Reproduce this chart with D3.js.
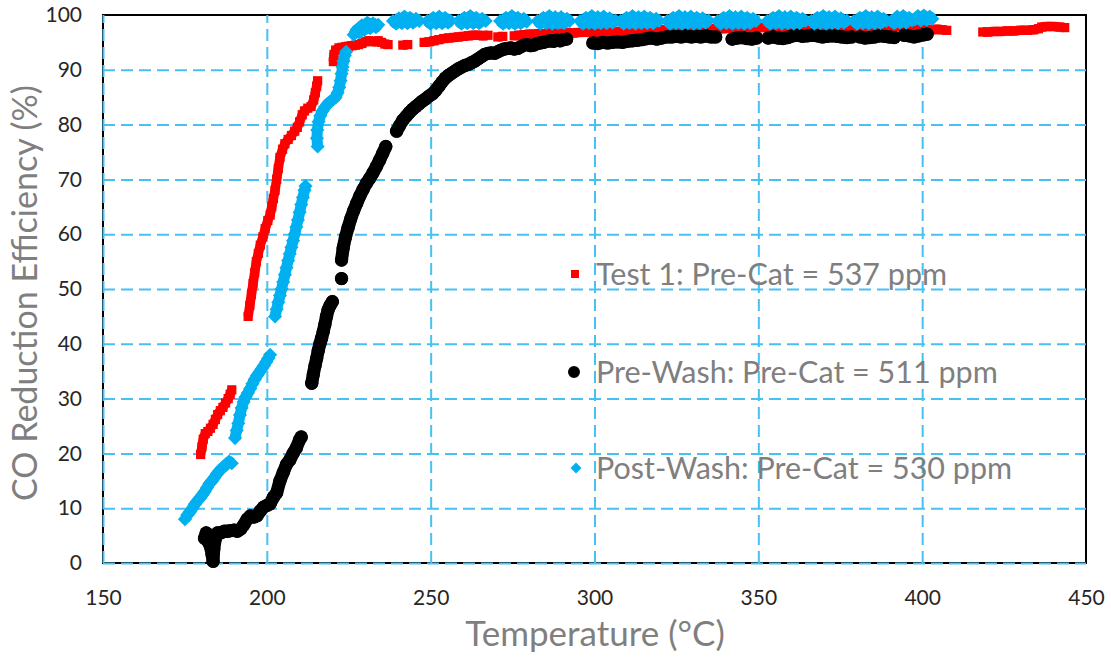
<!DOCTYPE html>
<html>
<head>
<meta charset="utf-8">
<script src="https://cdn.jsdelivr.net/npm/d3@7"></script>
<style>
  html, body { margin: 0; padding: 0; background: #fff; }
  svg { display: block; font-family: Lato, "Open Sans", sans-serif; }
</style>
</head>
<body>
<svg id="chart" width="1111" height="660"></svg>
<script>
// Axis ticks
const xTicks = [150, 200, 250, 300, 350, 400, 450];
const yTicks = [0, 10, 20, 30, 40, 50, 60, 70, 80, 90, 100];

// Series labels
const seriesNames = [
  "Test 1: Pre-Cat = 537 ppm",
  "Pre-Wash: Pre-Cat = 511 ppm",
  "Post-Wash: Pre-Cat = 530 ppm"
];

// Test 1 readings: [temperature °C, CO reduction %]; null marks a break in logging
const test1 = [
  [179.8,19.8],[180.2,21.2],[180.6,22.6],[181.2,23.6],[182,24],[182.8,24.6],[183.6,25.3],[184.3,26.2],
  [185,27.1],[185.8,27.8],[186.6,28.4],[187.4,29.2],[188.2,30],[188.8,30.8],[189.3,31.6],
  null,
  [194.3,45],[194.8,47],[195.3,49],[195.8,51],[196.3,53],[196.8,55],[197.4,56.5],[198,58],[198.8,59.5],
  [199.5,61],[200.3,62.5],[201,63.5],[201.5,65],[202,66.5],[202.5,68],[203,70],[203.5,72],[204,74],
  [204.8,75.5],[205.5,76.5],[206.5,77.3],[207.5,78],[208.5,78.8],[209.3,79.5],[210,80.5],[210.8,81.8],
  [211.5,82.5],[212.5,83],[213.5,83.3],[214.3,84.5],[214.8,85.8],[215.2,87],[215.5,88],
  null,
  [220.3,91.5],[220.5,92.8],[221,93.6],[222,94],[223,94.1],[224,94.2],[225,94.3],[226,94.4],[227,94.5],
  [228,94.6],[229,94.8],[230,95.1],[231,95.3],[232,95.2],[233,95.1],[234,95.3],[235,95],[236,94.7],[237,94.6],
  null,
  [241.5,94.5],[243,94.6],
  null,
  [248,95],[249.5,95.1],[251,95.3],[252.5,95.5],[254,95.7],[255.5,95.8],[257,95.9],[258.5,96],[260,96.1],
  [261.5,96.2],[263,96.3],[264.5,96.3],[266,96.2],[267.5,96.3],
  null,
  [270.5,96],[272,96.1],
  null,
  [275.5,96.2],[277,96.3],[278.5,96.4],[280,96.5],[281.5,96.5],[283,96.6],[284.5,96.6],[286,96.7],[287.5,96.7],
  [289,96.6],[290.5,96.7],[292,96.8],[293.5,96.7],[295,96.8],[297,96.9],[299,96.8],[301,96.9],[303,97],
  [305,96.9],[307,97],[309,97.1],[311,97],[313,97.1],[315,97.2],[317,97.1],[319,97.2],[321,97.3],[323,97.2],
  [325,97.3],[327,97.4],[329,97.3],[331,97.4],[333,97.5],[335,97.4],[337,97.5],[339,97.5],[341,97.6],
  [343,97.5],[345,97.6],[347,97.7],[349,97.6],[351,97.7],[353,97.7],[355,97.8],[357,97.7],[359,97.8],
  [361,97.8],[363,97.7],[365,97.8],[367,97.9],[369,97.8],[371,97.8],[373,97.9],[375,97.8],[377,97.9],
  [379,97.8],[381,97.9],[383,97.8],[385,97.9],[387,97.8],[389,97.9],[391,97.8],[393,97.9],[395,97.8],
  [397,97.7],[399,97.6],[401.5,97.4],[403,97.3],[404.5,97.4],[406,97.3],[407.5,97.2],
  null,
  [418.5,96.9],[420,96.9],[422,97],[424,97],[426,97.1],[428,97.1],[430,97.2],[432,97.2],[434,97.3],
  [435.5,97.5],[436.5,97.8],[438,97.9],[440,97.9],[442,97.8],[443.5,97.7]
];

// Pre-Wash readings
const preWash = [
  [181,4.5],[181.5,5.5],[182,4],[182.8,3],[183.3,1.5],[183.6,0.3],[183.8,2.5],[184.3,4.5],[185,5.5],
  [186,5.5],[187,5.8],[188,5.8],[189,5.9],[190,6],[191,5.8],[192,6.2],[193,7],[194,8],[195,8.6],[196,8.4],
  [197,8.6],[198,9.5],[199,10.2],[200,10.5],[201,10.8],[202,12],[203,12.8],[204,15],[205,16.5],[206,18],
  [207,18.8],[208,20],[209,21],[210,22.5],[210.5,23],
  null,
  [213.7,32.8],[214.2,34.5],[214.7,36],[215.2,37.3],[215.7,38.8],[216.2,40],[216.7,41],[217.2,42.2],
  [217.7,43.5],[218.2,45],[218.7,46.2],[219.3,47],[220,47.7],
  null,
  [222.8,51.9],
  null,
  [222.8,55.3],[223.3,57.5],[224,59.5],[224.8,61.2],[225.6,62.8],[226.5,64.3],[227.4,65.6],[228.4,67],
  [229.4,68.2],[230.4,69.3],[231.4,70.2],[232.4,71.2],[233.4,72.3],[234.4,73.5],[235.4,74.8],[236.3,76],
  null,
  [239.6,78.8],[240.5,79.8],[241.5,80.8],[242.5,81.5],[243.5,82.2],[244.5,82.8],[245.5,83.3],[246.5,83.8],
  [247.5,84.3],[248.5,84.7],[249.5,85.2],[250.5,85.6],[251.5,86.2],[252.5,87],[253.5,87.8],[254.5,88.5],
  [255.5,89],[256.5,89.4],[257.5,89.8],[258.5,90.2],[259.5,90.5],[260.5,90.8],[261.5,91],[262.5,91.3],
  [263.5,91.6],[264.5,92],[265.5,92.4],[266.5,92.8],[267.5,93],[268.5,93.1],[269.5,93],[270.5,93.3],
  [271.5,93.6],[272.5,93.8],[273.5,93.9],[274.5,94],[275.5,93.8],[276.5,93.9],[277.5,94.2],[278.5,94.5],
  [279.5,94.6],[280.5,94.4],[281.5,94.5],[282.5,94.8],[283.5,94.9],[284.5,95],[285.5,95.2],[286.5,95.3],
  [287.5,95.2],[288.5,95.4],[289.5,95.3],[290.5,95.5],[291.5,95.6],
  null,
  [299.5,94.9],[301,94.8],[302.5,95],[304,94.9],[305.5,95],[307,95.1],[308.5,95],[310,95.2],[311.5,95.3],
  [313,95.4],[314.5,95.5],[316,95.7],[317.5,95.8],[319,95.6],[320.5,95.8],[322,96],[323.5,96],[325,96.1],
  [326.5,96],[328,96.2],[329.5,96],[331,96.1],[332.5,96],[334,96.2],[335.5,96],[337,96],
  null,
  [342,95.6],[343.5,95.8],[345,95.9],[346.5,95.7],[348,95.6],[349.5,95.8],
  null,
  [353,95.8],[354.5,96],[356,95.8],[357.5,95.7],[359,95.9],[360.5,96.2],[362,96.3],[363.5,96.1],[365,96.2],
  [366.5,96.3],[368,96.2],[369.5,96],[371,96.1],[372.5,96.2],[374,96.1],[375.5,96],[377,95.9],[378.5,96],
  null,
  [381,96],[382.5,95.8],[384,95.9],[385.5,96],[387,96.2],[388.5,96.1],[390,96],[391.5,95.9],
  null,
  [394.5,96.3],[396,96.2],[397.5,96],[399,96.2],[400.5,96.4],[401.5,96.5]
];

// Post-Wash readings
const postWash = [
  [175,8],[175.8,8.8],[176.5,9.3],[177.3,10],[178,10.7],[178.8,11.3],[179.5,11.8],[180.3,12.4],[181,13],
  [181.8,13.8],[182.5,14.5],[183.3,15],[184,15.6],[184.8,16.3],[185.5,16.8],[186.3,17.3],[187,17.6],
  [187.8,18.1],[188.5,18.5],[189.3,18.2],
  null,
  [190.3,22.8],[190.8,24.2],[191.3,25.5],[191.8,27],[192.3,28.3],[192.9,29.4],[193.5,30.3],[194.2,31],
  [194.9,31.8],[195.6,32.7],[196.3,33.5],[197,34.2],[197.7,34.8],[198.4,35.4],[199.1,36],[199.8,36.7],
  [200.4,37.3],[201,38],
  null,
  [202.5,45],[203,46.3],[203.5,47.6],[204,48.8],[204.5,50],[205,51.3],[205.5,52.6],[206,53.9],[206.5,55.2],
  [207,56.4],[207.5,57.6],[208,58.8],[208.5,60],[209,61.3],[209.5,62.6],[210,64],[210.5,65.4],[211,66.7],
  [211.5,68],[211.8,68.8],
  null,
  [215.5,76],[215.3,77.5],[215.4,79],[215.8,80.5],[216.3,81.6],[217,82.5],[217.8,83.2],[218.6,83.8],
  [219.4,84.2],[220.2,84.6],[221,85],[221.6,85.8],[222.1,86.8],[222.5,88],[222.8,89.3],[223.1,90.5],
  [223.4,91.6],[223.8,92.6],[224.2,93.3],
  null,
  [226.5,96.4],[227.4,97.3],[228.2,96.8],[229,98.1],[229.8,97.3],[230.7,98.6],[231.5,97.6],[232.4,98.5],
  [233.3,97.8],[234,98.2],
  null,
  [238.5,98.9],[239.5,98.4],[240.3,99.4],[241.2,98.5],[242,99.7],[242.9,98.5],[243.7,99.5],[244.6,98.6],
  [245.5,99.3],[246.5,98.9],
  null,
  [249,98.9],[249.9,98.4],[250.8,99.5],[251.7,98.5],[252.6,99.7],[253.5,98.5],[254.4,99.5],[255.3,98.6],[256,99],
  null,
  [258.5,98.9],[259.4,98.4],[260.3,99.5],[261.2,98.5],[262.1,99.8],[263,98.5],[263.9,99.5],[264.8,98.5],
  [265.7,99.3],[266.8,98.9],
  null,
  [271.2,98.9],[272.1,98.4],[273,99.5],[273.9,98.5],[274.8,99.8],[275.7,98.4],[276.6,99.5],[277.5,98.5],
  [278.4,99.3],[279.3,98.8],
  null,
  [282.6,98.9],[283.5,98.4],[284.4,99.5],[285.3,98.5],[286.2,99.8],[287.1,98.4],[288,99.6],[288.9,98.5],
  [289.8,99.6],[290.7,98.5],[291.6,99.3],[292.4,98.9],
  null,
  [295.6,98.9],[296.5,98.4],[297.4,99.5],[298.3,98.5],[299.2,99.8],[300.1,98.4],[301,99.6],[301.9,98.5],
  [302.8,99.7],[303.7,98.5],[304.6,99.4],[305.5,98.6],[306.4,99],
  null,
  [308,98.9],[308.9,98.4],[309.8,99.5],[310.7,98.5],[311.6,99.8],[312.5,98.4],[313.4,99.6],[314.3,98.5],
  [315.2,99.7],[316.1,98.5],[317,99.5],[317.9,98.5],[318.8,99.3],[319.7,98.9],
  null,
  [322.2,98.9],[323.1,98.4],[324,99.5],[324.9,98.5],[325.8,99.8],[326.7,98.4],[327.6,99.6],[328.5,98.5],
  [329.4,99.7],[330.3,98.4],[331.2,99.5],[332.1,98.5],[333,99.4],[333.9,98.6],[334.8,99],
  null,
  [337.6,98.9],[338.5,98.4],[339.4,99.5],[340.3,98.5],[341.2,99.8],[342.1,98.4],[343,99.6],[343.9,98.5],
  [344.8,99.7],[345.7,98.4],[346.6,99.5],[347.5,98.5],[348.4,99.3],[349.3,98.9],
  null,
  [352.7,98.9],[353.6,98.4],[354.5,99.5],[355.4,98.5],[356.3,99.8],[357.2,98.4],[358.1,99.6],[359,98.5],
  [359.9,99.7],[360.8,98.4],[361.7,99.5],[362.6,98.5],[363.5,99.3],[364.4,98.9],
  null,
  [366.2,98.9],[367.1,98.4],[368,99.5],[368.9,98.5],[369.8,99.8],[370.7,98.4],[371.6,99.6],[372.5,98.5],
  [373.4,99.7],[374.3,98.5],[375.2,99.4],[376.1,98.6],[377,99],
  null,
  [379.2,98.9],[380.1,98.4],[381,99.5],[381.9,98.5],[382.8,99.8],[383.7,98.4],[384.6,99.6],[385.5,98.5],
  [386.4,99.7],[387.3,98.5],[388.2,99.3],[389.1,98.9],
  null,
  [390.6,98.9],[391.5,98.5],[392.4,99.7],[393.3,98.6],[394.2,99.8],[395.1,98.6],[396,99.5],[396.9,99],
  null,
  [397.8,99.2],[398.7,99.8],[399.6,99],[400.5,99.9],[401.4,99.1],[402.3,99.7],[403.1,99.3]
];

const svg = d3.select("#chart");
const plot = { left: 103, right: 1086, top: 15, bottom: 563 };

const x = d3.scaleLinear().domain([150, 450]).range([plot.left, plot.right]);
const y = d3.scaleLinear().domain([0, 100]).range([plot.bottom, plot.top]);

const gridColor = "#45c1f2";
const tickColor = "#262626";
const titleColor = "#7f7f7f";

// Plot frame
svg.append("rect")
  .attr("x", plot.left).attr("y", plot.top)
  .attr("width", plot.right - plot.left).attr("height", plot.bottom - plot.top)
  .attr("fill", "none").attr("stroke", "#000").attr("stroke-width", 2);

// Dashed gridlines drawn with axis generators
const gridY = svg.append("g")
  .attr("transform", `translate(${plot.left},0)`)
  .call(d3.axisLeft(y).tickValues(yTicks.filter(v => v < 100))
    .tickSize(-(plot.right - plot.left)).tickFormat(""));
const gridX = svg.append("g")
  .attr("transform", `translate(0,${plot.bottom})`)
  .call(d3.axisBottom(x).tickValues(xTicks.filter(v => v < 450))
    .tickSize(-(plot.bottom - plot.top)).tickFormat(""));
[gridX, gridY].forEach(g => {
  g.select(".domain").remove();
  g.selectAll("line")
    .attr("stroke", gridColor).attr("stroke-width", 2)
    .attr("stroke-dasharray", "12,6");
});

// Tick labels
const axX = svg.append("g")
  .attr("transform", `translate(0,${plot.bottom})`)
  .call(d3.axisBottom(x).tickValues(xTicks).tickSize(0).tickPadding(27).tickFormat(d3.format("d")));
const axY = svg.append("g")
  .attr("transform", `translate(${plot.left},0)`)
  .call(d3.axisLeft(y).tickValues(yTicks).tickSize(0).tickPadding(21).tickFormat(d3.format("d")));
[axX, axY].forEach(g => {
  g.select(".domain").remove();
  g.selectAll("text")
    .attr("fill", tickColor)
    .style("font-family", "Lato, 'Open Sans', sans-serif")
    .style("font-size", "21px");
});

// Series: a thick trace through each logged run, with a marker at every reading
const line = d3.line().defined(d => d !== null).x(d => x(d[0])).y(d => y(d[1]));

const series = [
  { data: test1,    color: "#ff0000", width: 9.5, symbol: d3.symbolSquare, size: 85,  rotate: 0 },
  { data: preWash,  color: "#000000", width: 13,  symbol: d3.symbolCircle, size: 140, rotate: 0 },
  { data: postWash, color: "#00b0f0", width: 11,  symbol: d3.symbolSquare, size: 100, rotate: 45 }
];

series.forEach(s => {
  const g = svg.append("g");
  g.append("path")
    .datum(s.data)
    .attr("d", line)
    .attr("fill", "none")
    .attr("stroke", s.color)
    .attr("stroke-width", s.width)
    .attr("stroke-linejoin", "round")
    .attr("stroke-linecap", s.symbol === d3.symbolCircle ? "round" : "butt");
  g.selectAll("path.pt")
    .data(s.data.filter(d => d !== null))
    .join("path")
    .attr("class", "pt")
    .attr("d", d3.symbol().type(s.symbol).size(s.size))
    .attr("transform", d => `translate(${x(d[0])},${y(d[1])}) rotate(${s.rotate})`)
    .attr("fill", s.color);
});

// Legend
const legendRows = [
  { name: seriesNames[0], color: "#ff0000", symbol: d3.symbolSquare, size: 64,  rotate: 0,  mx: 575, baseline: 285 },
  { name: seriesNames[1], color: "#000000", symbol: d3.symbolCircle, size: 113, rotate: 0,  mx: 574, baseline: 383 },
  { name: seriesNames[2], color: "#00b0f0", symbol: d3.symbolSquare, size: 60,  rotate: 45, mx: 576, baseline: 479 }
];
const legend = svg.append("g");
legendRows.forEach(r => {
  legend.append("path")
    .attr("d", d3.symbol().type(r.symbol).size(r.size))
    .attr("transform", `translate(${r.mx},${r.baseline - 11}) rotate(${r.rotate})`)
    .attr("fill", r.color);
  legend.append("text")
    .attr("x", 596).attr("y", r.baseline)
    .attr("fill", titleColor)
    .style("font-size", "30.5px")
    .text(r.name);
});

// Axis titles
svg.append("text")
  .attr("x", 595).attr("y", 646)
  .attr("text-anchor", "middle")
  .attr("fill", titleColor)
  .style("font-size", "35px")
  .text("Temperature (°C)");

svg.append("text")
  .attr("transform", "translate(37,293) rotate(-90)")
  .attr("text-anchor", "middle")
  .attr("fill", titleColor)
  .style("font-size", "34px")
  .text("CO Reduction Efficiency (%)");
</script>
</body>
</html>
